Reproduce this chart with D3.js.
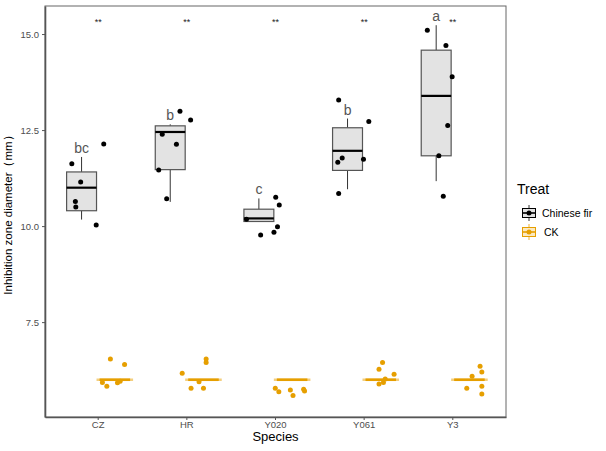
<!DOCTYPE html>
<html>
<head>
<meta charset="utf-8">
<script src="https://cdn.jsdelivr.net/npm/d3@7"></script>
<style>
  body { margin: 0; background: #fff; }
  svg { font-family: "Liberation Sans", Arial, sans-serif; }
</style>
</head>
<body>
<div id="chart"></div>
<script>
// species x treatment boxplot with jittered points
const species = ["CZ", "HR", "Y020", "Y061", "Y3"];
const treats = ["Chinese fir", "CK"];
const treatColors = ["#000000", "#E69F00"];
const yTicks = [7.5, 10.0, 12.5, 15.0];
const sigLetters = ["bc", "b", "c", "b", "a"];
const sigStars = ["**", "**", "**", "**", "**"];

// box stats for Chinese fir: [lower whisker, q1, median, q3, upper whisker]
const firBox = [
  [10.17, 10.40, 11.00, 11.41, 11.80],
  [10.63, 11.47, 12.45, 12.61, 12.65],
  [10.12, 10.12, 10.20, 10.44, 10.72],
  [10.96, 11.45, 11.96, 12.56, 12.80],
  [11.17, 11.83, 13.39, 14.58, 15.23]
];
// CK: all the same, box collapses to one line
const ckBox = [6.0, 6.0, 6.0, 6.0, 6.0].map(v => [v, v, v, v, v]);

// points (value, jitter in category units)
const firPoints = [
  [[11.62, -0.11], [11.15, -0.01], [10.64, -0.07], [10.50, -0.065], [12.14, 0.25], [10.03, 0.165]],
  [[12.99, 0.11], [12.76, 0.23], [12.39, -0.09], [12.13, 0.07], [11.46, -0.13], [10.71, -0.04]],
  [[10.75, 0.19], [10.55, 0.23], [10.18, -0.14], [9.98, 0.21], [9.84, 0.17], [9.77, 0.02]],
  [[13.28, -0.10], [12.72, 0.24], [11.77, -0.06], [11.66, -0.11], [11.74, 0.18], [10.85, -0.10]],
  [[15.10, -0.10], [14.70, 0.11], [13.89, 0.18], [12.62, 0.13], [11.83, 0.03], [10.78, 0.08]]
];
const ckPoints = [
  [[6.54, -0.05], [6.40, 0.11], [5.93, -0.14], [5.83, -0.09], [5.92, 0.03], [5.96, 0.06]],
  [[6.17, -0.24], [6.54, 0.03], [6.45, 0.03], [5.95, -0.05], [5.78, -0.14], [5.78, 0.0]],
  [[5.78, -0.19], [5.69, -0.15], [5.73, -0.02], [5.59, 0.01], [5.75, 0.13], [5.71, 0.14]],
  [[6.45, 0.02], [6.27, -0.02], [6.14, 0.15], [6.02, 0.05], [5.93, 0.03], [5.89, -0.02]],
  [[6.35, 0.12], [6.20, 0.14], [6.09, 0.03], [5.78, -0.03], [5.83, 0.14], [5.63, 0.14]]
];

const W = 606, H = 451;
const margin = { top: 6, right: 100, bottom: 34, left: 45 };
const iw = W - margin.left - margin.right;
const ih = H - margin.top - margin.bottom;

const svg = d3.select("#chart").append("svg").attr("width", W).attr("height", H);
const g = svg.append("g").attr("transform", `translate(${margin.left},${margin.top})`);

const x = d3.scaleBand().domain(species).range([0, iw]).paddingInner(0).paddingOuter(0.1);
const step = x.step();
const xc = s => x(s) + x.bandwidth() / 2;
const sub = d3.scaleBand().domain(treats).range([-0.375 * step, 0.375 * step]);
const subc = t => sub(t) + sub.bandwidth() / 2;
const y = d3.scaleLinear().domain([5.03, 15.73]).range([ih, 0]);

// panel border
g.append("rect").attr("width", iw).attr("height", ih)
  .attr("fill", "none").attr("stroke", "#666").attr("stroke-width", 1);

// axes
const gy = g.append("g").call(d3.axisLeft(y).tickValues(yTicks).tickFormat(d3.format(".1f")).tickSize(3).tickSizeOuter(0));
const gx = g.append("g").attr("transform", `translate(0,${ih})`)
  .call(d3.axisBottom(x).tickSize(3).tickSizeOuter(0));
[gx, gy].forEach(a => {
  a.select(".domain").attr("stroke", "#555").attr("stroke-width", 1.6);
  a.selectAll(".tick line").attr("stroke", "#555");
  a.selectAll(".tick text").attr("fill", "#4d4d4d").attr("font-size", 9.5)
    .attr("font-family", "Liberation Sans, Arial, sans-serif");
});
gx.selectAll(".tick text").attr("y", 4.5);

// chinese fir boxes
const boxW = sub.bandwidth() * 0.9;
species.forEach((s, i) => {
  const cx = xc(s) + subc(treats[0]);
  const [lo, q1, md, q3, hi] = firBox[i];
  g.append("line").attr("x1", cx).attr("x2", cx).attr("y1", y(hi)).attr("y2", y(q3)).attr("stroke", "#333").attr("stroke-width", 1);
  g.append("line").attr("x1", cx).attr("x2", cx).attr("y1", y(q1)).attr("y2", y(lo)).attr("stroke", "#333").attr("stroke-width", 1);
  g.append("rect").attr("x", cx - boxW / 2).attr("width", boxW)
    .attr("y", y(q3)).attr("height", y(q1) - y(q3))
    .attr("fill", "#e3e3e3").attr("stroke", "#555").attr("stroke-width", 1.2);
  g.append("line").attr("x1", cx - boxW / 2).attr("x2", cx + boxW / 2)
    .attr("y1", y(md)).attr("y2", y(md)).attr("stroke", "#000").attr("stroke-width", 2.2);
});

// CK boxes (degenerate)
const ckW = sub.bandwidth() * 1.1;
species.forEach((s, i) => {
  const cx = xc(s) + subc(treats[1]);
  const md = ckBox[i][2];
  g.append("line").attr("x1", cx - ckW / 2).attr("x2", cx + ckW / 2)
    .attr("y1", y(md)).attr("y2", y(md)).attr("stroke", "#f3cf80").attr("stroke-width", 2.6);
  g.append("line").attr("x1", cx - ckW / 2 + 3).attr("x2", cx + ckW / 2 - 3)
    .attr("y1", y(md)).attr("y2", y(md)).attr("stroke", treatColors[1]).attr("stroke-width", 2.6);
});

// points
[firPoints, ckPoints].forEach((pts, ti) => {
  species.forEach((s, i) => {
    const cx = xc(s) + subc(treats[ti]);
    g.selectAll(null).data(pts[i]).join("circle")
      .attr("cx", d => cx + d[1] * step)
      .attr("cy", d => y(d[0]))
      .attr("r", 2.5)
      .attr("fill", treatColors[ti]);
  });
});

// letters and stars
species.forEach((s, i) => {
  const cx = xc(s) + subc(treats[0]);
  const [, , , , hi] = firBox[i];
  g.append("text").attr("x", cx).attr("y", y(hi) - 4)
    .attr("text-anchor", "middle").attr("font-size", 14).attr("fill", "#555").text(sigLetters[i]);
  g.append("text").attr("x", xc(s)).attr("y", 19)
    .attr("text-anchor", "middle").attr("font-size", 9).attr("fill", "#222").text(sigStars[i]);
});

// axis titles
svg.append("text").attr("x", margin.left + iw / 2).attr("y", H - 10)
  .attr("text-anchor", "middle").attr("font-size", 13).attr("fill", "#000").text("Species");
svg.append("text").attr("transform", `translate(12,212) rotate(-90)`)
  .attr("text-anchor", "middle").attr("font-size", 11.5).attr("fill", "#000").text("Inhibition zone diameter（mm）");

// legend
const lg = svg.append("g").attr("transform", "translate(517,0)");
lg.append("text").attr("x", 0).attr("y", 194).attr("font-size", 14).attr("fill", "#000").text("Treat");
const keyFill = ["#e3e3e3", "#fbe9c2"];
treats.forEach((t, i) => {
  const ky = 213 + i * 19;
  const k = lg.append("g").attr("transform", `translate(12,${ky})`);
  k.append("line").attr("x1", 0).attr("x2", 0).attr("y1", -8).attr("y2", 8).attr("stroke", treatColors[i]).attr("stroke-width", 0.8);
  k.append("rect").attr("x", -6.5).attr("y", -4.5).attr("width", 13).attr("height", 9)
    .attr("fill", keyFill[i]).attr("stroke", treatColors[i]).attr("stroke-width", 1);
  k.append("line").attr("x1", -6.5).attr("x2", 6.5).attr("y1", 0).attr("y2", 0).attr("stroke", treatColors[i]).attr("stroke-width", 1.6);
  k.append("circle").attr("r", 2.5).attr("fill", treatColors[i]);
  lg.append("text").attr("x", i === 0 ? 25 : 27).attr("y", ky + 4).attr("font-size", 10.5).attr("fill", "#000").text(t);
});
</script>
</body>
</html>
